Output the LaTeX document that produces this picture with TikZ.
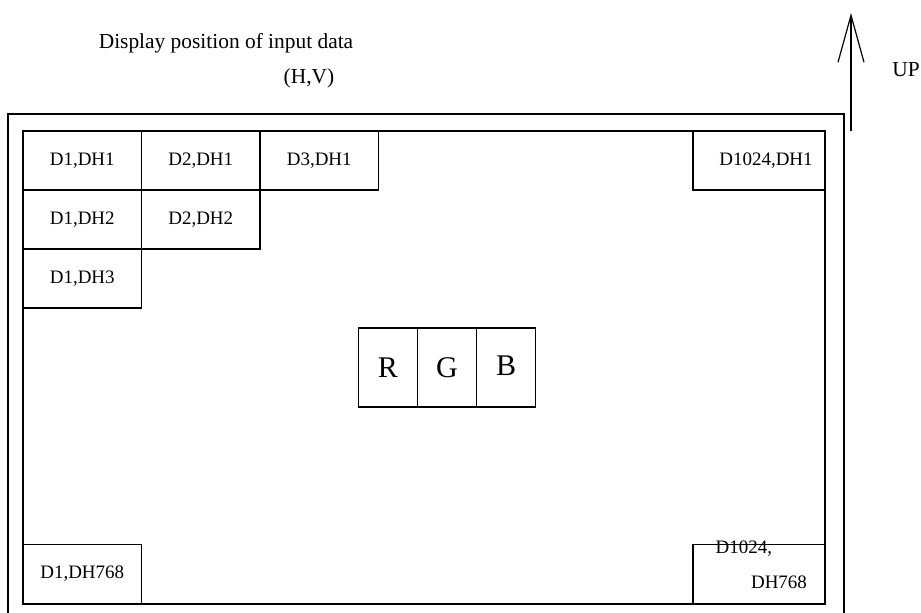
\documentclass[tikz,border=0pt]{standalone}
\usepackage{fontspec}
\setmainfont{Liberation Serif}
\usetikzlibrary{arrows.meta}

\begin{document}
\begin{tikzpicture}[x=0.5pt, y=-0.5pt, line width=0.6pt,
	cell/.style={draw, inner sep=0pt, minimum width=59.25pt, minimum height=29.5pt, font=\fontsize{9.5}{11}\selectfont},
	wide/.style={cell, minimum width=66pt},
	rgb/.style={draw, inner sep=0pt, minimum width=29.5pt, minimum height=39.5pt, font=\fontsize{15}{17}\selectfont},
	caption/.style={inner sep=0pt, font=\fontsize{10.7}{13}\selectfont},
	small/.style={inner sep=0pt, font=\fontsize{9.5}{11}\selectfont}]

	\useasboundingbox (0,0) rectangle (921,613);

	% title
	\node[caption] (title) at (226,43) {Display position of input data};
	\node[caption] (hv) at (309,78) {(H,V)};

	% outer frame, open at the bottom
	\draw (8,613) |- (844,114) -- (844,613);

	% screen
	\draw (23,131) rectangle (825,604);

	% first row
	\node[cell] (d1h1) at (82.25,160.5) {D1,DH1};
	\node[cell] (d2h1) at (200.75,160.5) {D2,DH1};
	\node[cell] (d3h1) at (319.25,160.5) {D3,DH1};
	\node[wide] (d1024h1) at (759,160.5) {\hspace{7pt}D1024,DH1};

	% second and third row
	\node[cell] (d1h2) at (82.25,219.5) {D1,DH2};
	\node[cell] (d2h2) at (200.75,219.5) {D2,DH2};
	\node[cell] (d1h3) at (82.25,278.5) {D1,DH3};

	% last row
	\node[cell] (d1h768) at (82.25,574) {D1,DH768};
	\node[wide] (d1024h768) at (759,574) {};
	\node[small, anchor=west] (d1024) at (715,549) {D1024,};
	\node[small] (dh768) at (779,582) {DH768};

	% one pixel
	\node[rgb] (r) at (388,367.5) {R};
	\node[rgb] (g) at (447,367.5) {G};
	\node[rgb] (b) at (506,367.5) {\raisebox{1.5pt}{B}};

	% direction
	\coordinate (upfoot) at (851,131);
	\coordinate (uptip) at (851,13);
	\draw[-{Straight Barb[length=23.5pt, width=13pt]}] (upfoot) -- (uptip);
	\node[caption] (up) at (906,70) {UP};

\end{tikzpicture}
\end{document}
